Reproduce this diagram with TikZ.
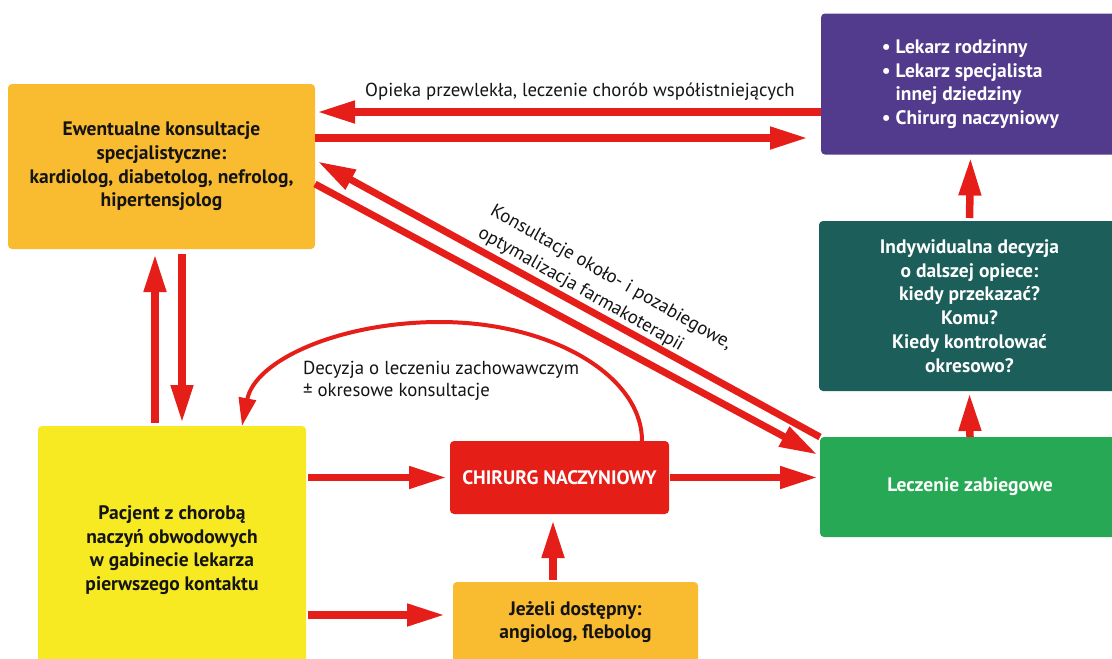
\documentclass[tikz,border=0pt]{standalone}
\usepackage{fontspec}
\setmainfont{PT Sans}
\usetikzlibrary{arrows.meta,calc}
\definecolor{orA}{RGB}{249,187,48}
\definecolor{yel}{RGB}{247,234,34}
\definecolor{redbox}{RGB}{229,30,24}
\definecolor{arrowred}{RGB}{230,30,25}
\definecolor{purp}{RGB}{82,58,140}
\definecolor{tealbox}{RGB}{28,94,90}
\definecolor{greenbox}{RGB}{39,168,84}
\definecolor{txt}{RGB}{20,20,20}
\tikzset{
  box/.style={rounded corners=4pt, inner sep=0pt, outer sep=0pt, align=center,
    font=\fontsize{19.5}{23.7}\selectfont\bfseries},
  arr/.style={draw=arrowred, line width=7.5pt, -{Triangle[length=38pt,width=21pt]}},
  thinarr/.style={draw=arrowred, line width=4pt, -{Triangle[length=28pt,width=17pt]}},
  lbl/.style={font=\fontsize{18.8}{22}\selectfont, inner sep=0pt, outer sep=0pt, text=txt},
}
\begin{document}
\begin{tikzpicture}[x=1pt,y=-1pt]
\useasboundingbox (0,0) rectangle (1112,659);
\clip (0,0) rectangle (1112,659);
% boxes
\node[box, fill=orA, text=txt, minimum width=307pt, minimum height=165pt] (A) at (161.5,166.5)
  {Ewentualne konsultacje\\specjalistyczne:\\kardiolog, diabetolog, nefrolog,\\hipertensjolog};
\node[box, fill=purp, text=white, minimum width=299pt, minimum height=141pt, align=left] (B) at (970.5,84)
  {\textbullet\ Lekarz rodzinny\\\textbullet\ Lekarz specjalista\\\phantom{\textbullet\ }innej dziedziny\\\textbullet\ Chirurg naczyniowy};
\node[box, fill=tealbox, text=white, minimum width=301pt, minimum height=170pt] (C) at (969.5,306)
  {Indywidualna decyzja\\o dalszej opiece:\\kiedy przekazać?\\Komu?\\Kiedy kontrolować\\okresowo?};
\node[box, fill=greenbox, text=white, minimum width=300pt, minimum height=100pt] (D) at (970,487)
  {Leczenie zabiegowe};
\node[box, fill=redbox, text=white, minimum width=219pt, minimum height=73pt] (E) at (559.5,477.5)
  {CHIRURG NACZYNIOWY};
\node[box, fill=yel, text=txt, minimum width=268pt, minimum height=248pt] (F) at (172,550)
  {Pacjent z chorobą\\naczyń obwodowych\\w gabinecie lekarza\\pierwszego kontaktu};
\node[box, fill=orA, text=txt, minimum width=245pt, minimum height=80pt] (G) at (575.5,622)
  {Jeżeli dostępny:\\angiolog, flebolog};
% labels
\node[lbl, anchor=base] (L1) at (580,96) {Opieka przewlekła, leczenie chorób współistniejących};
\node[lbl, anchor=north west, align=left, rotate=-29.5, font=\fontsize{18.8}{25}\selectfont] (L2) at (496,203)
  {Konsultacje około- i pozabiegowe,\\optymalizacja farmakoterapii};
\node[lbl, anchor=north west, align=left] (L3) at (303,361)
  {Decyzja o leczeniu zachowawczym\\± okresowe konsultacje};
% connectors
\draw[arr, shorten >=2pt] (B.west |- 0,112) -- (A.east |- 0,112);
\draw[arr, shorten >=13pt] (A.east |- 0,138) -- (B.west |- 0,138);
\draw[arr, shorten <=3pt, shorten >=5pt] (F.north -| 155,0) -- (A.south -| 155,0);
\draw[arr, shorten <=5pt, shorten >=3pt] (A.south -| 182,0) -- (F.north -| 182,0);
\draw[arr, shorten <=2pt, shorten >=3pt] (F.east |- E.west) -- (E.west);
\draw[arr, shorten <=2pt, shorten >=8pt] (F.east |- 0,615) -- (G.west |- 0,615);
\draw[arr, shorten <=2pt, shorten >=6pt] (G.north -| 553,0) -- (E.south -| 553,0);
\draw[arr, shorten <=1pt, shorten >=2pt] (E.east) -- (D.west |- E.east);
\draw[arr, shorten >=2pt] (D.north) -- (C.south);
\draw[arr, shorten <=3pt, shorten >=3pt] (C.north) -- (B.south);
\draw[arr, line width=7pt, shorten >=3pt] (D.north west) -- (A.east |- 0,160);
\draw[arr, line width=7pt, shorten >=3pt] (A.east |- 0,184) -- (D.west |- 0,456);
\draw[thinarr] (E.north -| 642,0) .. controls (642,375) and (550,322) .. (440,322)
  .. controls (340,322) and (255,360) .. (F.north -| 242,0);
\end{tikzpicture}
\end{document}
